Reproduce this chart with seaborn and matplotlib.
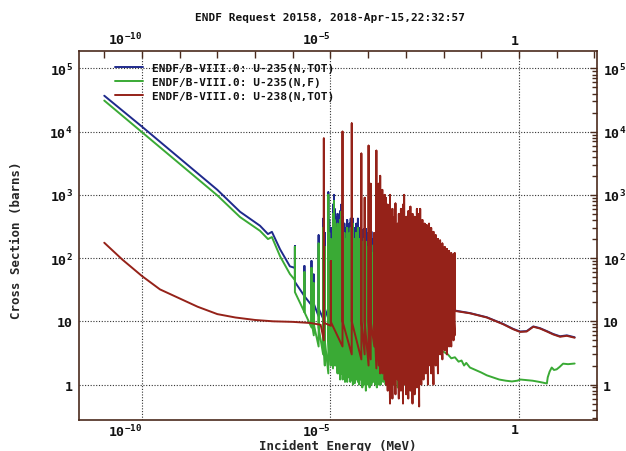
import matplotlib
matplotlib.use("Agg")
import matplotlib.pyplot as plt
import seaborn as sns
from matplotlib.ticker import FixedLocator, FixedFormatter, LogLocator, NullFormatter

# ---------------- data (energies in MeV unless noted, cross sections in barns) -------------
labels = ["ENDF/B-VIII.0: U-235(N,TOT)", "ENDF/B-VIII.0: U-235(N,F)", "ENDF/B-VIII.0: U-238(N,TOT)"]
colors = ["#1f2a8c", "#3aaa35", "#952219"]

# U-235 total : thermal part
u235t_low_E = [1e-11, 1e-10, 1e-9, 1e-8, 4e-8, 1.35e-7, 2.2e-7, 2.8e-7, 4.6e-7, 8.4e-7]
u235t_low_xs = [3.7e4, 1.2e4, 3.8e3, 1.2e3, 540, 325, 240, 260, 138, 74]
# U-235 fission : thermal part
u235f_low_E = [1e-11, 1e-10, 1e-9, 1e-8, 4e-8, 1.35e-7, 2.2e-7, 2.8e-7, 4.6e-7, 8.4e-7]
u235f_low_xs = [3.1e4, 9.8e3, 3.1e3, 980, 445, 270, 200, 215, 107, 56]

# U-235 resolved resonances (energies in eV)
u235_res_eV = [1.14, 2.04, 3.14, 3.61, 4.85, 6.39, 7.08, 8.78, 9.28, 10.18,
               11.66, 12.39, 12.85, 13.7, 14.0, 15.4, 16.1, 16.7, 18.05, 19.3,
               20.1, 21.1, 22.9, 23.4, 24.3, 25.2, 26.5, 27.8, 28.4, 30.6,
               32.1, 33.5, 34.4, 35.2, 39.4, 41.4, 44.0, 46.9, 48.4, 51.2,
               53.5, 56.5, 58.1, 60.2, 63.6, 67.2, 70, 74, 78, 82,
               87, 92, 97, 103, 109, 115, 122, 129, 136, 144,
               152, 161, 170, 180, 190, 200, 215, 230, 250, 270,
               290, 320, 350, 390, 430, 480, 530, 600, 680, 760,
               850, 950, 1100, 1250, 1450, 1650, 1900, 2200]
u235f_dip = [45, 14, 8, 6, 4, 3, 2, 1.5, 3, 2,
             1.8, 2, 3, 2, 2.5, 1.5, 2, 1.5, 1.2, 1.5,
             2, 1.2, 2, 1.5, 1.1, 2, 1.5, 1.1, 2.5, 1.3,
             1.5, 1.1, 2, 1.2, 1.0, 1.5, 1.05, 1.5, 1.2, 1.5,
             1.1, 1.5, 1.0, 1.5, 1.2, 1.5, 0.9, 1.3, 1.0, 1.4,
             0.8, 1.2, 1.0, 1.5, 0.9, 1.2, 1.0, 1.4, 1.1, 1.5,
             1.0, 1.3, 0.9, 1.2, 1.0, 1.5, 1.0, 1.5, 1.1, 1.6,
             1.0, 1.8, 1.2, 0.6, 1.5, 1.0, 2.0, 0.9, 2.0, 1.2,
             2.5, 1.0, 2.5, 1.5, 3.0, 1.8, 3.5, 2.5]
u235f_peak = [150, 60, 70, 40, 170, 300, 150, 1000, 250, 200,
              500, 800, 400, 300, 200, 350, 250, 300, 400, 540,
              150, 350, 120, 250, 180, 100, 200, 300, 120, 150,
              250, 180, 300, 200, 350, 120, 200, 120, 250, 150,
              300, 180, 200, 100, 150, 120, 180, 120, 200, 100,
              180, 110, 150, 90, 140, 100, 160, 90, 120, 80,
              110, 80, 100, 70, 90, 60, 70, 55, 65, 50,
              60, 45, 55, 40, 50, 35, 45, 30, 40, 30,
              35, 25, 30, 25, 25, 20, 20, 18]
u235f_base = [29, 14, 10, 9, 8, 6, 5, 6, 7, 6,
              6, 8, 10, 8, 8, 6, 8, 7, 6, 8,
              7, 6, 8, 7, 6, 8, 7, 6, 9, 7,
              6, 7, 6, 7, 6, 7, 6, 7, 6, 8,
              7, 8, 6, 7, 6, 8, 6, 7, 6, 7,
              6, 7, 6, 7, 6, 7, 6, 7, 6, 7,
              6, 7, 6, 7, 6, 7, 6, 7, 6, 7,
              6, 7, 6, 7, 6, 7, 6, 7, 6, 7,
              6, 7, 6, 7, 6, 7, 6, 7]
u235t_dip = [70, 25, 18, 16, 12, 11, 12, 11, 12, 11,
             12, 11, 12, 11, 12, 11, 12, 11, 12, 11,
             12, 11, 12, 11, 12, 11, 12, 11, 12, 11,
             12, 11, 12, 11, 12, 11, 12, 11, 12, 11,
             12, 11, 12, 11, 12, 11, 12, 11, 12, 11,
             12, 11, 12, 11, 12, 11, 12, 11, 12, 11,
             12, 11, 12, 11, 12, 11, 12, 11, 12, 11,
             12, 11, 12, 11, 12, 11, 12, 11, 12, 11,
             12, 11, 12, 11, 12, 11, 12, 11]
u235t_peak = [155, 75, 90, 55, 230, 420, 250, 1100, 400, 300,
              700, 1000, 600, 450, 350, 500, 350, 400, 550, 700,
              250, 450, 200, 350, 250, 150, 300, 400, 200, 250,
              350, 280, 420, 300, 420, 200, 300, 200, 350, 250,
              420, 280, 300, 180, 250, 200, 280, 200, 290, 180,
              290, 200, 250, 160, 230, 180, 260, 170, 200, 150,
              180, 140, 170, 120, 150, 110, 120, 100, 110, 90,
              100, 80, 90, 70, 80, 60, 70, 55, 60, 50,
              55, 45, 50, 40, 40, 35, 35, 30]
u235t_base = [42, 25, 20, 19, 16, 17, 16, 17, 16, 17,
              16, 17, 16, 17, 16, 17, 16, 17, 16, 17,
              16, 17, 16, 17, 16, 17, 16, 17, 16, 17,
              16, 17, 16, 17, 16, 17, 16, 17, 16, 17,
              16, 17, 16, 17, 16, 17, 16, 17, 16, 17,
              16, 17, 16, 17, 16, 17, 16, 17, 16, 17,
              16, 17, 16, 17, 16, 17, 16, 17, 16, 17,
              16, 17, 16, 17, 16, 17, 16, 17, 16, 17,
              16, 17, 16, 17, 16, 17, 16, 17]

# U-235 above the resolved range
u235t_high_E = [2.5e-3, 5e-3, 1e-2, 2e-2, 5e-2, 0.14, 0.38, 0.7, 1.07, 1.6, 2.4, 3.6, 5.5, 8.1, 12.3, 18.6, 30]
u235t_high_xs = [20, 17, 16, 14.8, 13.5, 11.6, 9.1, 7.6, 6.9, 7.0, 8.3, 7.8, 7.0, 6.3, 5.8, 6.0, 5.6]
u235f_high_E = [2.5e-3, 4e-3, 6e-3, 8e-3, 1.0e-2, 1.3e-2, 1.6e-2, 2e-2, 2.5e-2, 3e-2, 3.5e-2, 4e-2,
                5e-2, 7e-2, 0.1, 0.14, 0.2, 0.3, 0.45, 0.65, 0.9, 1.1, 1.5, 2.3, 3.5, 5.5,
                5.8, 6.5, 7.4, 8.5, 10, 12, 14.8, 20, 30]
u235f_high_xs = [6, 4.8, 4.0, 3.5, 3.3, 3.0, 2.6, 2.7, 2.3, 2.4, 2.0, 2.2,
                 1.86, 1.7, 1.55, 1.4, 1.3, 1.2, 1.15, 1.12, 1.15, 1.2, 1.18, 1.15, 1.1, 1.04,
                 1.3, 1.6, 1.86, 1.7, 1.74, 1.9, 2.14, 2.1, 2.15]

# U-238 total
u238_low_E = [1e-11, 3e-11, 1e-10, 3e-10, 1e-9, 3e-9, 1e-8, 3e-8, 1e-7, 3e-7, 1e-6, 3e-6, 5.5e-6]
u238_low_xs = [175, 95, 52, 32, 23, 17, 13, 11.5, 10.5, 10.0, 9.8, 9.4, 8.8]
u238_res_eV = [6.67, 10.24, 20.87, 36.68, 66.0, 80.7, 102.5, 116.9, 145.7, 165.3,
               189.7, 208.5, 237.4, 263.9, 273.6, 291.0,
               300, 330, 350, 380, 410, 440, 470, 500, 530, 570,
               610, 650, 690, 740, 790, 840, 900, 960, 1020, 1090,
               1160, 1240, 1320, 1410, 1500, 1600, 1710, 1830, 1960, 2100,
               2250, 2400, 2570, 2750, 2940, 3150, 3370, 3600, 3850, 4120,
               4400, 4700, 5000, 5400, 5800, 6200, 6600, 7100, 7600, 8100,
               8700, 9300, 10000, 10700, 11400, 12200, 13100, 14000, 15000, 16000,
               17200, 18400, 19700]
u238_dip = [5.0, 8.5, 4.0, 3.0, 2.5, 3.0, 2.0, 2.5, 4.0, 1.8,
            2.0, 1.5, 1.5, 2.0, 1.2, 1.5,
            1.0, 0.8, 2.0, 0.5, 1.5, 0.6, 2.0, 1.0, 0.7, 2.5,
            1.2, 0.6, 3.0, 0.8, 1.5, 0.5, 2.0, 1.0, 0.7, 2.0,
            0.6, 1.5, 0.8, 2.5, 0.5, 1.8, 0.7, 2.0, 0.9, 3.0,
            0.45, 2.0, 1.0, 3.0, 1.2, 4.0, 1.5, 3.0, 1.0, 4.0,
            2.0, 1.5, 4.0, 1.0, 5.0, 2.0, 4.0, 1.5, 5.0, 3.0,
            5.0, 2.5, 5.0, 3.5, 6.0, 3.0, 6.0, 4.0, 6.0, 4.0,
            7.0, 5.0, 6.0]
u238_peak = [7800, 90, 10000, 13500, 4500, 900, 6000, 1500, 250, 5000,
             1500, 2000, 1200, 700, 1000, 900,
             400, 700, 150, 1000, 250, 600, 120, 450, 730, 200,
             350, 500, 150, 600, 300, 700, 1000, 250, 450, 200,
             550, 300, 650, 250, 500, 220, 450, 300, 600, 250,
             500, 600, 300, 400, 280, 350, 250, 330, 220, 350,
             250, 300, 200, 260, 180, 230, 160, 200, 150, 190,
             140, 170, 130, 150, 120, 140, 110, 130, 115, 120,
             100, 115, 120]
u238_base = [9.5, 9.8, 10, 10, 10, 10, 10, 10, 10, 10,
             10, 10, 12, 12, 12, 12,
             15, 12, 20, 15, 25, 12, 20, 15, 18, 25,
             15, 20, 25, 18, 22, 15, 20, 25, 18, 25,
             20, 25, 18, 25, 20, 25, 20, 25, 18, 25,
             20, 25, 20, 25, 22, 25, 22, 25, 22, 25,
             22, 25, 22, 25, 22, 25, 22, 22, 22, 20,
             22, 20, 22, 20, 20, 18, 20, 18, 18, 18,
             17, 16, 15]
u238_high_E = [2.0e-2, 5.0e-2, 0.14, 0.38, 0.7, 1.07, 1.6, 2.4, 3.6, 5.5, 8.1, 12.3, 18.6, 30]
u238_high_xs = [14.6, 13.4, 11.5, 9.0, 7.5, 6.8, 6.9, 8.2, 7.7, 6.9, 6.2, 5.7, 5.9, 5.5]

title = "ENDF Request 20158, 2018-Apr-15,22:32:57"
x_ticks = [1e-10, 1e-5, 1]
x_ticklabels = [r"$10^{-10}$", r"$10^{-5}$", "1"]
y_ticks = [1, 10, 100, 1e3, 1e4, 1e5]
y_ticklabels = ["1", "10", r"$10^{2}$", r"$10^{3}$", r"$10^{4}$", r"$10^{5}$"]


def assemble(lowE, lowX, resE_eV, dip, peak, base, highE, highX):
    assert len(resE_eV) == len(dip) == len(peak) == len(base)
    E, X = list(lowE), list(lowX)
    for e, d, p, b in zip(resE_eV, dip, peak, base):
        em = e * 1e-6  # eV -> MeV
        E += [em, em, em]
        X += [d, p, b]
    E += list(highE)
    X += list(highX)
    return E, X


curves = [
    assemble(u235t_low_E, u235t_low_xs, u235_res_eV, u235t_dip, u235t_peak, u235t_base, u235t_high_E, u235t_high_xs),
    assemble(u235f_low_E, u235f_low_xs, u235_res_eV, u235f_dip, u235f_peak, u235f_base, u235f_high_E, u235f_high_xs),
    assemble(u238_low_E, u238_low_xs, u238_res_eV, u238_dip, u238_peak, u238_base, u238_high_E, u238_high_xs),
]

# ---------------- style ----------------
sns.set_theme(style="white")
plt.rcParams.update({
    "font.family": ["DejaVu Sans Mono"],
    "font.weight": "bold",
    "mathtext.fontset": "custom",
    "mathtext.rm": "DejaVu Sans Mono:bold",
    "mathtext.it": "DejaVu Sans Mono:bold",
    "mathtext.bf": "DejaVu Sans Mono:bold",
    "mathtext.default": "rm",
    "text.color": "#111111",
})

frame = "#4a2a1c"
fig = plt.figure(figsize=(6.26, 4.52), dpi=100)
ax = fig.add_axes([79 / 626, 1 - 420.7 / 452, (597 - 79) / 626, (420.7 - 51.7) / 452])

for (E, X), lab, col in zip(curves, labels, colors):
    sns.lineplot(x=E, y=X, sort=False, estimator=None, color=col, linewidth=1.4,
                 label=lab, ax=ax)

ax.set_xscale("log")
ax.set_yscale("log")
ax.set_xlim(10 ** -11.67, 10 ** 2.07)
ax.set_ylim(10 ** -0.556, 10 ** 5.28)

ax.xaxis.set_major_locator(FixedLocator(x_ticks))
ax.xaxis.set_major_formatter(FixedFormatter(x_ticklabels))
ax.xaxis.set_minor_locator(FixedLocator([10.0 ** k for k in range(-11, 3) if k not in (-10, -5, 0)]))
ax.xaxis.set_minor_formatter(NullFormatter())
ax.yaxis.set_major_locator(FixedLocator(y_ticks))
ax.yaxis.set_major_formatter(FixedFormatter(y_ticklabels))
ax.yaxis.set_minor_locator(LogLocator(base=10, subs=range(2, 10), numticks=30))
ax.yaxis.set_minor_formatter(NullFormatter())

ax.tick_params(which="both", direction="in", top=True, right=True, labeltop=True, labelright=True,
               color=frame, width=1.0, labelsize=9.5, labelcolor="#111111")
ax.tick_params(which="major", length=5)
ax.tick_params(axis="x", which="major", pad=2.5)
ax.tick_params(axis="y", which="major", pad=4.5)
ax.tick_params(which="minor", length=3.5)
ax.tick_params(axis="x", which="minor", length=5)

for s in ax.spines.values():
    s.set_color(frame)
    s.set_linewidth(1.2)

ax.grid(True, which="major", linestyle=(0, (1, 1.5)), color="#333333", linewidth=0.8)
ax.grid(False, which="minor")

ax.set_xlabel("Incident Energy (MeV)", fontsize=9, fontweight="bold")
ax.xaxis.label.set_va("center")
ax.xaxis.set_label_coords(0.5, (420.7 - 446.5) / 368.5)
ax.set_ylabel("Cross Section (barns)", fontsize=9, fontweight="bold")
ax.yaxis.label.set_va("center")
ax.yaxis.set_label_coords((17 - 79) / 518, 0.49)

fig.text(330 / 626, 1 - 18 / 452, title, ha="center", va="center", fontsize=8, fontweight="bold")

leg = ax.legend(loc="upper left", bbox_to_anchor=((115 - 79) / 518, 0.966), frameon=False,
                fontsize=8, handlelength=2.5, handletextpad=0.8, labelspacing=0.33,
                borderaxespad=0, borderpad=0)
for t in leg.get_texts():
    t.set_fontweight("bold")

# x tick labels sit with their right end on the tick, as in the reference
for t in ax.xaxis.get_major_ticks():
    t.label1.set_horizontalalignment("right")
    t.label2.set_horizontalalignment("right")
for t in ax.xaxis.get_major_ticks() + ax.yaxis.get_major_ticks():
    t.label1.set_fontweight("bold")
    t.label2.set_fontweight("bold")

fig.savefig("out.png", dpi=100, facecolor="white")
